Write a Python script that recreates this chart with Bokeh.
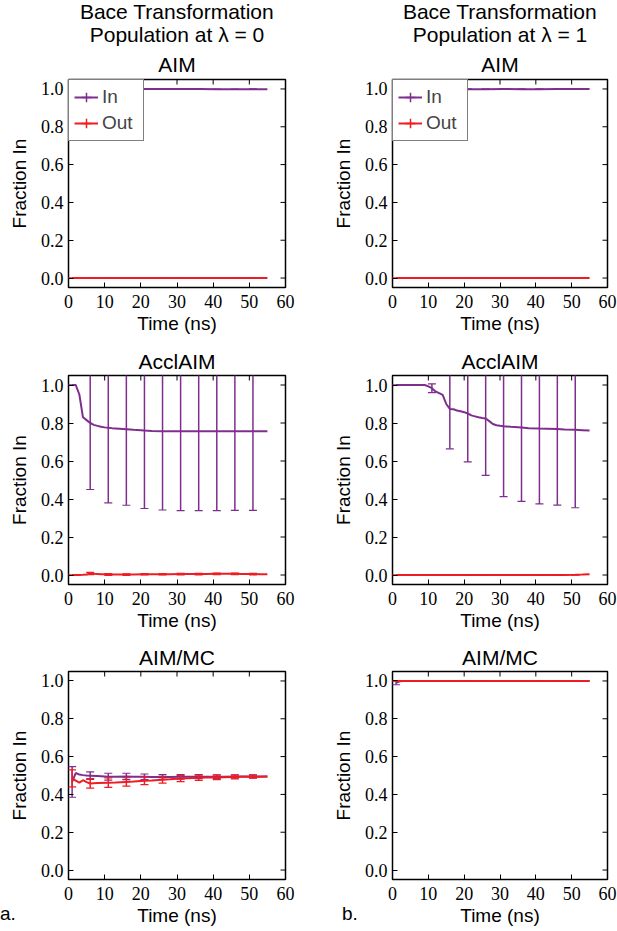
import math
from bokeh.plotting import figure
from bokeh.models import (Range1d, FixedTicker, PrintfTickFormatter,
                          Title, Legend, LegendItem, Div)
from bokeh.layouts import column, row
from bokeh.embed import file_html
from bokeh.resources import INLINE

# ---------------- data ----------------
X_TICKS = [0, 10, 20, 30, 40, 50, 60]
Y_TICKS = [0.0, 0.2, 0.4, 0.6, 0.8, 1.0]
X_START, X_END = 0, 60
Y_START, Y_END = -0.05, 1.05
SERIES = ["In", "Out"]
HEADERS = [["Bace Transformation", "Population at λ = 0"],
           ["Bace Transformation", "Population at λ = 1"]]
METHODS = ["AIM", "AcclAIM", "AIM/MC"]
PANEL_TAGS = ["a.", "b."]

# error bars are drawn every 5 ns
ERR_T = [1, 6, 11, 16, 21, 26, 31, 36, 41, 46, 51]

# AIM, lambda = 0
aim0_t = [1, 6, 11, 16, 21, 26, 31, 36, 41, 46, 51, 55]
aim0_in = [1.0, 1.0, 1.0, 1.0, 1.0, 1.0, 1.0, 1.0, 0.998, 0.998, 0.999, 0.999]
aim0_out = [0.0, 0.0, 0.0, 0.0, 0.0, 0.0, 0.0, 0.0, 0.0, 0.0, 0.0, 0.0]
aim0_in_err = [0.0, 0.0, 0.0, 0.0, 0.0, 0.0, 0.0, 0.0, 0.0, 0.0, 0.0]
aim0_out_err = [0.0, 0.0, 0.0, 0.0, 0.0, 0.0, 0.0, 0.0, 0.0, 0.0, 0.0]

# AIM, lambda = 1
aim1_t = [1, 6, 11, 16, 21, 26, 31, 36, 41, 46, 51, 55]
aim1_in = [1.0, 1.0, 1.0, 1.0, 0.999, 0.999, 1.0, 0.999, 0.999, 1.0, 1.0, 1.0]
aim1_out = [0.0, 0.0, 0.0, 0.0, 0.0, 0.0, 0.0, 0.0, 0.0, 0.0, 0.0, 0.0]
aim1_in_err = [0.0, 0.0, 0.0, 0.0, 0.0, 0.0, 0.0, 0.0, 0.0, 0.0, 0.0]
aim1_out_err = [0.0, 0.0, 0.0, 0.0, 0.0, 0.0, 0.0, 0.0, 0.0, 0.0, 0.0]

# AcclAIM, lambda = 0
acc0_t = [1, 2, 3, 4, 5, 6, 7, 8, 9, 10, 11, 12, 14, 16, 18, 21, 23, 26, 28,
          31, 33, 36, 38, 41, 43, 46, 48, 51, 53, 55]
acc0_in = [1.0, 1.0, 0.95, 0.83, 0.815, 0.80, 0.79, 0.785, 0.78, 0.777, 0.775,
           0.773, 0.770, 0.767, 0.764, 0.760, 0.758, 0.757, 0.757, 0.756, 0.756,
           0.756, 0.756, 0.756, 0.757, 0.757, 0.757, 0.757, 0.757, 0.757]
acc0_out = [0.0, 0.0, 0.0, 0.001, 0.003, 0.008, 0.006, 0.005, 0.004, 0.004,
            0.003, 0.003, 0.002, 0.002, 0.003, 0.004, 0.004, 0.004, 0.004,
            0.005, 0.005, 0.005, 0.005, 0.006, 0.006, 0.006, 0.005, 0.005,
            0.004, 0.004]
acc0_in_err = [0.0, 0.35, 0.395, 0.40, 0.41, 0.415, 0.417, 0.417, 0.417, 0.417, 0.417]
acc0_out_err = [0.0, 0.006, 0.005, 0.004, 0.004, 0.004, 0.004, 0.004, 0.004, 0.004, 0.004]

# AcclAIM, lambda = 1
acc1_t = [1, 3, 5, 6, 7, 9, 10, 11, 12, 13, 14, 15, 16, 17, 18, 19, 20, 21, 22,
          23, 24, 25, 26, 27, 28, 29, 30, 31, 33, 36, 38, 41, 43, 46, 48, 51, 53, 55]
acc1_in = [1.0, 1.0, 1.0, 1.0, 1.0, 1.0, 0.993, 0.983, 0.966, 0.957, 0.948,
           0.90, 0.874, 0.872, 0.866, 0.862, 0.857, 0.850, 0.840, 0.835, 0.830,
           0.826, 0.824, 0.81, 0.795, 0.788, 0.785, 0.783, 0.780, 0.776, 0.773,
           0.771, 0.770, 0.768, 0.766, 0.764, 0.762, 0.760]
acc1_out = [0.0, 0.0, 0.0, 0.0, 0.0, 0.0, 0.0, 0.0, 0.0, 0.0, 0.0, 0.0, 0.0,
            0.0, 0.0, 0.0, 0.0, 0.0, 0.0, 0.0, 0.0, 0.0, 0.0, 0.0, 0.0, 0.0,
            0.0, 0.0, 0.0, 0.0, 0.0, 0.0, 0.0, 0.0, 0.0, 0.001, 0.002, 0.004]
acc1_in_err = [0.0, 0.0, 0.023, 0.21, 0.255, 0.30, 0.37, 0.388, 0.397, 0.40, 0.41]
acc1_out_err = [0.0, 0.0, 0.0, 0.0, 0.0, 0.0, 0.0, 0.0, 0.0, 0.0, 0.0]

# AIM/MC, lambda = 0
mc0_t = [1, 2, 3, 4, 5, 6, 8, 11, 13, 16, 18, 21, 23, 26, 28, 31, 33, 36, 38,
         41, 43, 46, 48, 51, 53, 55]
mc0_in = [0.466, 0.513, 0.505, 0.502, 0.500, 0.499, 0.497, 0.494, 0.494, 0.495,
          0.494, 0.493, 0.492, 0.492, 0.492, 0.493, 0.493, 0.494, 0.494, 0.494,
          0.494, 0.495, 0.495, 0.495, 0.495, 0.495]
mc0_out = [0.485, 0.473, 0.462, 0.475, 0.465, 0.458, 0.460, 0.462, 0.463, 0.466,
           0.468, 0.472, 0.474, 0.478, 0.480, 0.484, 0.486, 0.488, 0.489, 0.490,
           0.491, 0.492, 0.493, 0.494, 0.494, 0.495]
mc0_in_err = [0.081, 0.02, 0.018, 0.017, 0.015, 0.013, 0.012, 0.011, 0.010, 0.009, 0.008]
mc0_out_err = [0.045, 0.025, 0.025, 0.022, 0.020, 0.018, 0.016, 0.014, 0.012, 0.010, 0.008]

# AIM/MC, lambda = 1
mc1_t = [1, 2, 3, 6, 11, 16, 21, 26, 31, 36, 41, 46, 51, 55]
mc1_in = [0.99, 0.998, 1.0, 1.0, 1.0, 1.0, 1.0, 1.0, 1.0, 1.0, 1.0, 1.0, 1.0, 1.0]
mc1_out = [1.0, 1.0, 1.0, 1.0, 1.0, 1.0, 1.0, 1.0, 1.0, 1.0, 1.0, 1.0, 1.0, 1.0]
mc1_in_err = [0.01, 0.0, 0.0, 0.0, 0.0, 0.0, 0.0, 0.0, 0.0, 0.0, 0.0]
mc1_out_err = [0.0, 0.0, 0.0, 0.0, 0.0, 0.0, 0.0, 0.0, 0.0, 0.0, 0.0]

PANELS = [
    [(aim0_t, aim0_in, aim0_out, aim0_in_err, aim0_out_err),
     (aim1_t, aim1_in, aim1_out, aim1_in_err, aim1_out_err)],
    [(acc0_t, acc0_in, acc0_out, acc0_in_err, acc0_out_err),
     (acc1_t, acc1_in, acc1_out, acc1_in_err, acc1_out_err)],
    [(mc0_t, mc0_in, mc0_out, mc0_in_err, mc0_out_err),
     (mc1_t, mc1_in, mc1_out, mc1_in_err, mc1_out_err)],
]

# ---------------- style / layout ----------------
PURPLE = "#7e2f8e"
RED = "#ee1d23"
SANS = "Liberation Sans"
SERIF = "Liberation Serif"

COL_W = [308, 309]
COL_BORDER_L = [68, 84]
COL_BORDER_R = [23, 10]
ROW_H = [339, 297, 295]
ROW_BORDER_T = [79, 36, 35]
ROW_BORDER_B = [52, 52, 52]
# title standoffs, from the line nearest the frame upwards
TOP_TITLE_STANDOFF = [7, 4, -8]
SUB_TITLE_STANDOFF = 5


def add_series(p, t, v, err, color):
    line = p.line(t, v, line_color=color, line_width=2)
    lookup = dict(zip(t, v))
    base = [lookup[x] for x in ERR_T]
    lo = [b - e for b, e in zip(base, err)]
    hi = [b + e for b, e in zip(base, err)]
    p.segment(x0=ERR_T, y0=lo, x1=ERR_T, y1=hi, line_color=color, line_width=1.5)
    p.scatter(x=ERR_T + ERR_T, y=lo + hi, marker="dash", size=8,
              line_color=color, line_width=1.2)
    return line


def style_axis(ax, ticks):
    ax.ticker = FixedTicker(ticks=ticks)
    ax.major_tick_in = 5
    ax.major_tick_out = 0
    ax.major_tick_line_color = "black"
    ax.major_tick_line_width = 1
    ax.minor_tick_line_color = None
    ax.axis_line_color = None
    ax.major_label_text_font = SERIF
    ax.major_label_text_font_size = "18px"
    ax.major_label_text_color = "black"
    ax.axis_label_text_font = SANS
    ax.axis_label_text_font_size = "19px"
    ax.axis_label_text_font_style = "normal"
    ax.axis_label_text_color = "black"


def make_panel(r, c):
    t, v_in, v_out, e_in, e_out = PANELS[r][c]
    p = figure(width=COL_W[c], height=ROW_H[r],
               x_range=Range1d(X_START, X_END), y_range=Range1d(Y_START, Y_END),
               output_backend="svg", toolbar_location=None)
    p.min_border_left = COL_BORDER_L[c]
    p.min_border_right = COL_BORDER_R[c]
    p.min_border_top = ROW_BORDER_T[r]
    p.min_border_bottom = ROW_BORDER_B[r]
    p.background_fill_color = "white"
    p.border_fill_color = "white"
    p.outline_line_color = "black"
    p.outline_line_width = 1.5
    p.xgrid.visible = False
    p.ygrid.visible = False

    xa = p.xaxis[0]
    ya = p.yaxis[0]
    style_axis(xa, X_TICKS)
    style_axis(ya, Y_TICKS)
    ya.formatter = PrintfTickFormatter(format="%.1f")
    xa.axis_label = "Time (ns)"
    xa.major_label_standoff = 7
    xa.axis_label_standoff = 2
    ya.axis_label = "Fraction In"
    ya.major_label_standoff = 5
    ya.axis_label_standoff = 8

    # inward tick marks on the top and right edges of the frame
    p.scatter(x=X_TICKS, y=[Y_END] * len(X_TICKS), marker="dash",
              angle=math.pi / 2, size=10, line_color="black", line_width=1)
    p.scatter(x=[X_END] * len(Y_TICKS), y=Y_TICKS, marker="dash",
              size=10, line_color="black", line_width=1)

    if r == 0:
        lines = [METHODS[r]] + list(reversed(HEADERS[c]))
        offs = TOP_TITLE_STANDOFF
    else:
        lines = [METHODS[r]]
        offs = [SUB_TITLE_STANDOFF]
    for txt, s in zip(lines, offs):
        p.add_layout(Title(text=txt, align="center", text_font=SANS,
                           text_font_size="21px", text_font_style="normal",
                           text_color="black", standoff=s), "above")

    l_in = add_series(p, t, v_in, e_in, PURPLE)
    l_out = add_series(p, t, v_out, e_out, RED)

    if r == 0:
        # legend-only marks (no plotted position) that add the error-bar cross
        k_in = p.scatter(x=[math.nan], y=[math.nan], marker="cross", size=10,
                         line_color=PURPLE, line_width=1.5)
        k_out = p.scatter(x=[math.nan], y=[math.nan], marker="cross", size=10,
                          line_color=RED, line_width=1.5)
        leg = Legend(items=[LegendItem(label=SERIES[0], renderers=[l_in, k_in]),
                            LegendItem(label=SERIES[1], renderers=[l_out, k_out])],
                     location="top_left", margin=0, padding=5, spacing=2,
                     glyph_width=24, glyph_height=24, label_standoff=4,
                     label_width=36,
                     label_text_font=SANS, label_text_font_size="19px",
                     border_line_color="black", border_line_width=1.5,
                     background_fill_color="white", background_fill_alpha=1.0)
        p.add_layout(leg)
    return p


rows = [row(make_panel(r, 0), make_panel(r, 1)) for r in range(3)]

TAG_STYLE = {"font-family": "Liberation Sans", "font-size": "19px",
             "line-height": "20px", "color": "black",
             "position": "relative", "z-index": "10"}
tag_a = Div(text=PANEL_TAGS[0], width=308, height=20,
            margin=(-27, 0, 0, 0), styles=TAG_STYLE)
tag_b = Div(text=PANEL_TAGS[1], width=275, height=20,
            margin=(-27, 0, 0, 34), styles=TAG_STYLE)

layout = column(*rows, row(tag_a, tag_b))

open("out.html", "w").write(file_html(layout, INLINE))
